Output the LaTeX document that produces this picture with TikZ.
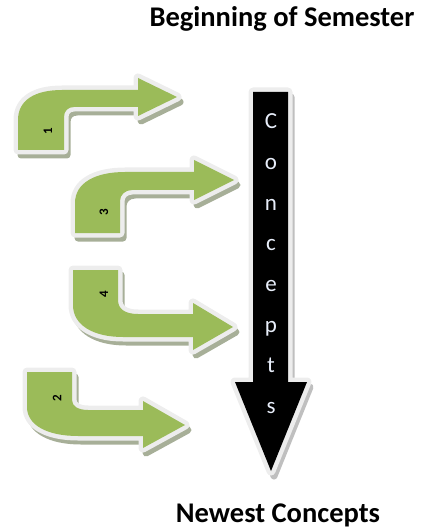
\documentclass[tikz,border=0pt]{standalone}
\usepackage{fontspec}
\setmainfont{Carlito}
\definecolor{arrowgreen}{HTML}{9BBB59}
\definecolor{shadowgrey}{HTML}{A7AF98}
\definecolor{glowgrey}{HTML}{EDEDED}
\definecolor{letterwhite}{HTML}{E8EEFA}
\begin{document}
\begin{tikzpicture}[x=1pt, y=-1pt,
    glow/.style={draw=glowgrey, line width=9pt, line join=round},
    drop/.style={draw=shadowgrey, fill=shadowgrey, line width=7pt, line join=round,
      transform canvas={shift={(3,5)}}},
    bentarrow/.style={fill=arrowgreen, preaction={drop}, preaction={glow}},
    bigarrow/.style={fill=black, preaction={drop, draw=black!25, fill=black!25}, preaction={glow}},
    heading/.style={anchor=base, font=\bfseries\fontsize{28.5}{30}\selectfont},
    letter/.style={anchor=base, text=letterwhite, font=\fontsize{23}{23}\selectfont},
    digit/.style={rotate=90, font=\bfseries\fontsize{13}{13}\selectfont}]
  \useasboundingbox (0,0) rectangle (426,529);

  % headings
  \node[heading] (top) at (282,27) {Beginning of Semester};
  \node[heading] (newest) at (278,522) {Newest Concepts};

  % concepts arrow
  \path[bigarrow] (253,92) -- (288,92) -- (288,382) -- (307,382) -- (271,471)
    -- (235,382) -- (253,382) -- cycle;
  \foreach \ch [count=\i] in {C,o,n,c,e,p,t,s} {
    \node[letter] (c\i) at (271,{129+40.6*(\i-1)}) {\ch};
  }

  % arrow 1
  \path[bentarrow] (18,150) -- (18,120) .. controls (18,100) and (35,90) .. (62,90)
    -- (138,90) -- (138,78) -- (177,97) -- (138,116) -- (138,107) -- (74,107)
    .. controls (68,107) and (64,111) .. (64,117) -- (64,150) -- cycle;
  \node[digit] (lab1) at (48,131) {1};

  % arrow 3
  \path[bentarrow] (75,233) -- (75,203) .. controls (75,183) and (95,172) .. (125,172)
    -- (194,172) -- (194,160) -- (234,180) -- (194,200) -- (194,190) -- (132,190)
    .. controls (125,190) and (120,195) .. (120,201) -- (120,233) -- cycle;
  \node[digit] (lab3) at (104,212) {3};

  % arrow 4
  \path[bentarrow] (73,270) -- (118,270) -- (118,300) .. controls (118,309) and (125,314) .. (138,314)
    -- (193,314) -- (193,303) -- (233,327) -- (193,350) -- (193,337) -- (123,337)
    .. controls (93,337) and (73,325) .. (73,305) -- cycle;
  \node[digit] (lab4) at (104,294) {4};

  % arrow 2
  \path[bentarrow] (27,372) -- (72,372) -- (72,400) .. controls (72,406) and (78,410) .. (88,410)
    -- (143,410) -- (143,401) -- (185,425) -- (143,448) -- (143,436) -- (78,436)
    .. controls (47,436) and (27,425) .. (27,407) -- cycle;
  \node[digit] (lab2) at (57,398) {2};
\end{tikzpicture}
\end{document}
